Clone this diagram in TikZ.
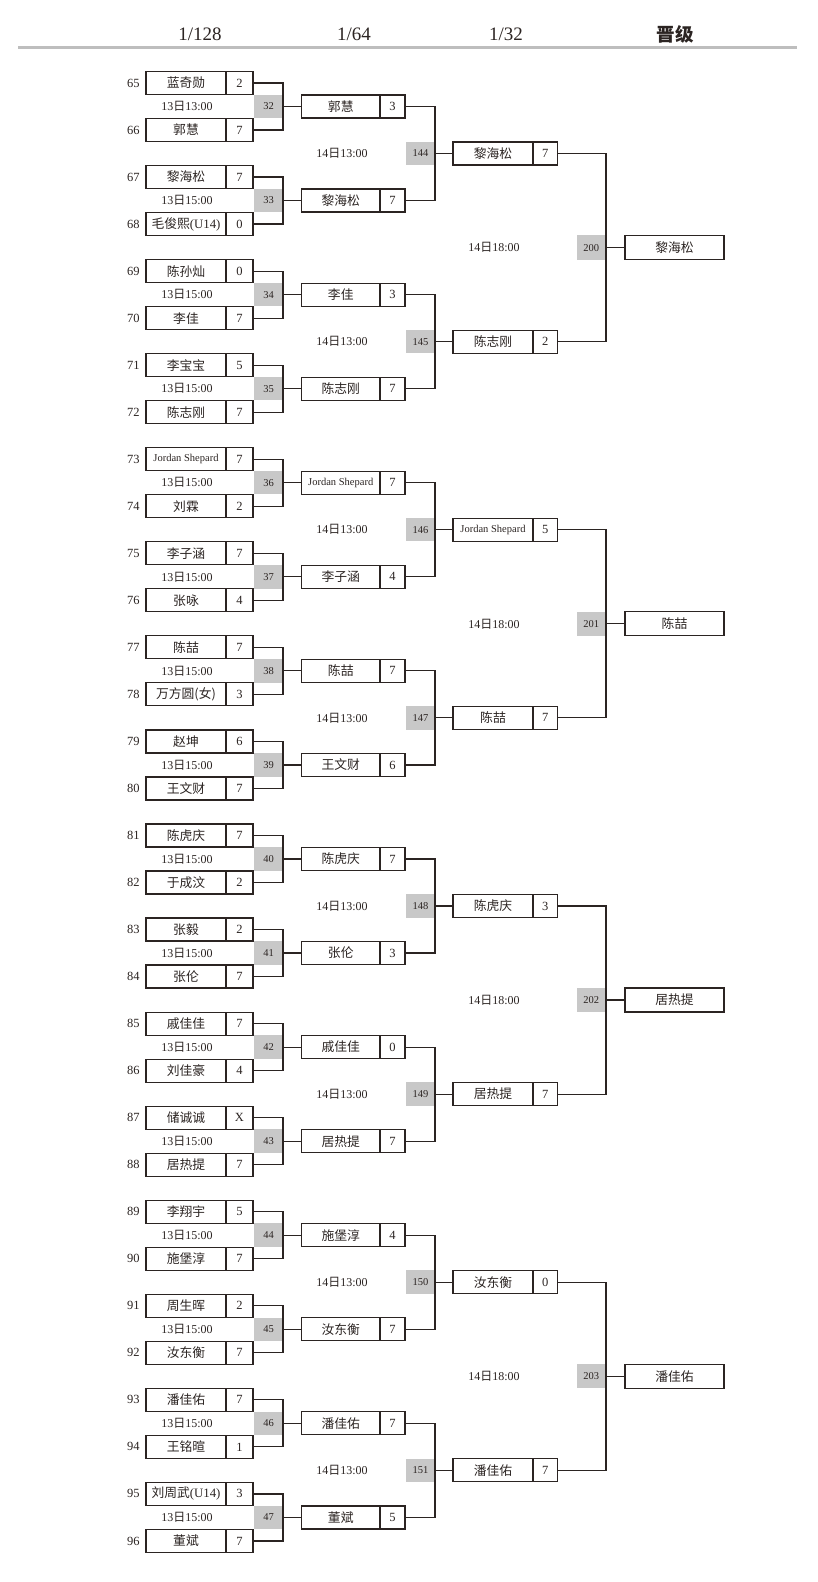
\documentclass[tikz,border=0pt]{standalone}
\usepackage{fontspec}
\setmainfont{Liberation Serif}
\newfontfamily\cjk{Noto Sans CJK SC}
\newcommand\jsfont{\rmfamily\fontsize{10.5}{12}\selectfont}
\newcommand\dt[2]{#1{\cjk 日}#2}
\definecolor{ink}{HTML}{2B2422}
\definecolor{cell}{HTML}{C8C8C8}
\definecolor{rulegray}{HTML}{BEBEBE}
\tikzset{
  every node/.style={inner sep=0pt, outer sep=0pt, text=ink},
  namebox/.style={draw=ink, line width=1.2pt, minimum height=23pt, anchor=west,
    font=\cjk\fontsize{12.8}{14}\selectfont},
  scorebox/.style={draw=ink, line width=1.2pt, minimum height=23pt, anchor=west,
    font=\rmfamily\fontsize{12.5}{14}\selectfont},
  graybox/.style={fill=cell, anchor=east, minimum width=29pt, minimum height=23.5pt,
    font=\rmfamily\fontsize{10.5}{12}\selectfont},
  seedlbl/.style={anchor=east, font=\rmfamily\fontsize{12.5}{14}\selectfont},
  datelbl/.style={font=\rmfamily\fontsize{12}{14}\selectfont},
  hdr/.style={font=\rmfamily\fontsize{19}{22}\selectfont},
  link/.style={draw=ink, line width=1.2pt},
}
\begin{document}
\begin{tikzpicture}[x=1pt,y=-1pt]
\useasboundingbox (0,0) rectangle (818,1582);
% header
\node[hdr] (h1) at (200,34.5) {1/128};
\node[hdr] (h2) at (354,34.5) {1/64};
\node[hdr] (h3) at (506,34.5) {1/32};
\node[hdr, font=\cjk\bfseries\fontsize{18.5}{22}\selectfont] (h4) at (675,34.5) {晋级};
\coordinate (rl) at (18,47.5);
\coordinate (rr) at (797,47.5);
\draw[rulegray, line width=3pt] (rl) -- (rr);

% round 1 players
\foreach \nm/\sc [count=\i from 0] in {
  蓝奇勋/2, 郭慧/7, 黎海松/7, 毛俊熙{\rmfamily(U14)}/0,
  陈孙灿/0, 李佳/7, 李宝宝/5, 陈志刚/7,
  {\jsfont Jordan Shepard}/7, 刘霖/2, 李子涵/7, 张咏/4,
  陈喆/7, 万方圆(女)/3, 赵坤/6, 王文财/7,
  陈虎庆/7, 于成汶/2, 张毅/2, 张伦/7,
  戚佳佳/7, 刘佳豪/4, 储诚诚/X, 居热提/7,
  李翔宇/5, 施堡淳/7, 周生晖/2, 汝东衡/7,
  潘佳佑/7, 王铭暄/1, 刘周武{\rmfamily(U14)}/3, 董斌/7}{
  \pgfmathsetmacro\yy{83+47.03*\i}
  \pgfmathtruncatemacro\seed{65+\i}
  \node[namebox, minimum width=80pt] (a\i) at (146,\yy) {\nm};
  \node[scorebox, minimum width=27pt] (as\i) at (a\i.east) {\sc};
  \node[seedlbl] (s\i) at (139.5,\yy) {\seed};
}
% round 1 matches
\foreach \m in {0,...,15}{
  \pgfmathsetmacro\yy{106.5+94.06*\m}
  \pgfmathtruncatemacro\gid{32+\m}
  \node[graybox] (g\m) at (283,\yy) {\gid};
  \ifnum\m=0
    \node[datelbl] (d\m) at (187,\yy) {\dt{13}{13:00}};
  \else
    \node[datelbl] (d\m) at (187,\yy) {\dt{13}{15:00}};
  \fi
}
% round 2 players
\foreach \nm/\sc [count=\i from 0] in {
  郭慧/3, 黎海松/7, 李佳/3, 陈志刚/7,
  {\jsfont Jordan Shepard}/7, 李子涵/4, 陈喆/7, 王文财/6,
  陈虎庆/7, 张伦/3, 戚佳佳/0, 居热提/7,
  施堡淳/4, 汝东衡/7, 潘佳佑/7, 董斌/5}{
  \pgfmathsetmacro\yy{106.5+94.06*\i}
  \node[namebox, minimum width=78.5pt] (b\i) at (301.5,\yy) {\nm};
  \node[scorebox, minimum width=25pt] (bs\i) at (b\i.east) {\sc};
}
% round 2 matches
\foreach \j in {0,...,7}{
  \pgfmathsetmacro\yy{153.5+188.12*\j}
  \pgfmathtruncatemacro\gid{144+\j}
  \node[graybox] (e\j) at (435,\yy) {\gid};
  \node[datelbl] (ed\j) at (342,\yy) {\dt{14}{13:00}};
}
% round 3 players
\foreach \nm/\sc [count=\i from 0] in {
  黎海松/7, 陈志刚/2, {\jsfont Jordan Shepard}/5, 陈喆/7,
  陈虎庆/3, 居热提/7, 汝东衡/0, 潘佳佑/7}{
  \pgfmathsetmacro\yy{153.5+188.12*\i}
  \node[namebox, minimum width=80pt] (c\i) at (453,\yy) {\nm};
  \node[scorebox, minimum width=24.5pt] (cs\i) at (c\i.east) {\sc};
}
% round 3 matches and winners
\foreach \nm [count=\k from 0] in {黎海松, 陈喆, 居热提, 潘佳佑}{
  \pgfmathsetmacro\yy{247.6+376.24*\k}
  \pgfmathtruncatemacro\gid{200+\k}
  \node[graybox, minimum width=29.3pt, minimum height=24.3pt] (f\k) at (606,\yy) {\gid};
  \node[datelbl] (fd\k) at (494,\yy) {\dt{14}{18:00}};
  \node[namebox, minimum width=99pt, minimum height=24pt] (w\k) at (625,\yy) {\nm};
}
% connectors round 1
\foreach \m in {0,...,15}{
  \pgfmathtruncatemacro\ta{2*\m}
  \pgfmathtruncatemacro\tb{2*\m+1}
  \draw[link] (as\ta.east) -| (g\m.east) |- (as\tb.east);
  \draw[link] (g\m.east) -- (b\m.west);
}
% connectors round 2
\foreach \j in {0,...,7}{
  \pgfmathtruncatemacro\ta{2*\j}
  \pgfmathtruncatemacro\tb{2*\j+1}
  \draw[link] (bs\ta.east) -| (e\j.east) |- (bs\tb.east);
  \draw[link] (e\j.east) -- (c\j.west);
}
% connectors round 3
\foreach \k in {0,...,3}{
  \pgfmathtruncatemacro\ta{2*\k}
  \pgfmathtruncatemacro\tb{2*\k+1}
  \draw[link] (cs\ta.east) -| (f\k.east) |- (cs\tb.east);
  \draw[link] (f\k.east) -- (w\k.west);
}
\end{tikzpicture}
\end{document}
